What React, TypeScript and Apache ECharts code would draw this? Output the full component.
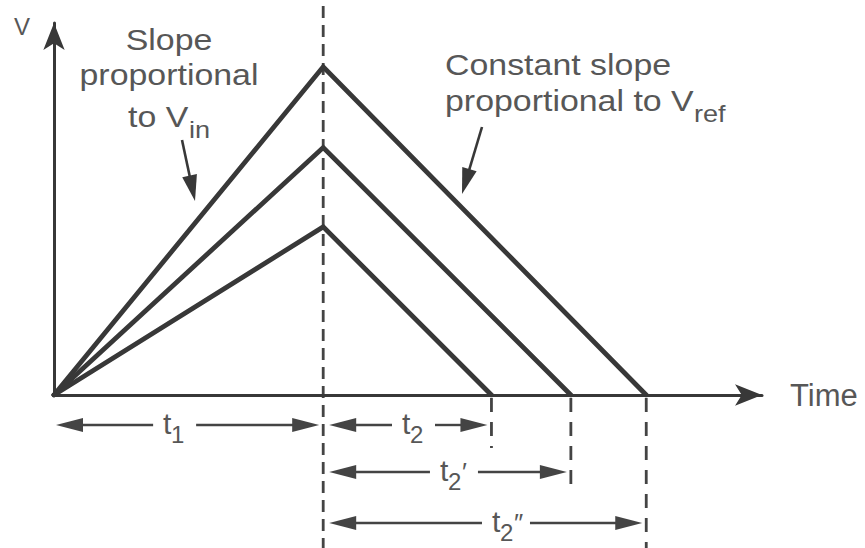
import React, { useEffect, useRef } from "react";
import * as echarts from "echarts";

// ---- data ----
const T1 = 10; // fixed integration period t1
const peakVoltages = [12.2, 9.2, 6.25]; // V at t1 for the three inputs (largest first)
const dischargeEnds = [22.0, 19.2, 16.25]; // time at which each ramp returns to zero
const xAxisMax = 26.3;
const yAxisMax = 13.83;

// dimension arrows: label, subscript, mark, start, end, row, label position
const dimSubs = ["1", "2", "2", "2"];
const dimMarks = ["", "", "\u2032", "\u2033"];
const dimFrom = [0, T1, T1, T1];
const dimTo = [T1, dischargeEnds[2], dischargeEnds[1], dischargeEnds[0]];
const dimRow = [0, 0, 1, 2];
const dimLabelAt = [0.407, 0.46, 0.466, 0.52];

// ---- layout / style ----
const FONT = "'Liberation Sans', Arial, Helvetica, sans-serif";
const TEXT_COLOR = "#575757";
const LINE_COLOR = "#383838";
const DIM_COLOR = "#444444";
const ROW_Y = [425, 472, 523];
const EXT_BOTTOM = [548, 493, 448]; // extension dashed lines below ends (top, mid, low)
const SX = 1.13;

function txt(text: string, x: number, baseline: number, fontSize: number, align = "left", scaleX = 1) {
  return {
    type: "text",
    x,
    y: baseline - 0.34 * fontSize,
    scaleX,
    silent: true,
    style: {
      text,
      fontSize,
      fontFamily: FONT,
      fill: TEXT_COLOR,
      align,
      verticalAlign: "middle",
    },
  };
}

function seg(x1: number, y1: number, x2: number, y2: number, w: number, color: string, dash?: number[]) {
  return {
    type: "line",
    silent: true,
    shape: { x1, y1, x2, y2 },
    style: { stroke: color, lineWidth: w, lineDash: dash || null, lineCap: "butt" },
  };
}

function head(tipX: number, tipY: number, fromX: number, fromY: number, len: number, half: number, color: string) {
  const dx = tipX - fromX;
  const dy = tipY - fromY;
  const d = Math.sqrt(dx * dx + dy * dy) || 1;
  const ux = dx / d;
  const uy = dy / d;
  const bx = tipX - ux * len;
  const by = tipY - uy * len;
  return {
    type: "polygon",
    silent: true,
    shape: {
      points: [
        [tipX, tipY],
        [bx - uy * half, by + ux * half],
        [bx + uy * half, by - ux * half],
      ],
    },
    style: { fill: color },
  };
}

function pointer(x1: number, y1: number, tipX: number, tipY: number) {
  const dx = tipX - x1;
  const dy = tipY - y1;
  const d = Math.sqrt(dx * dx + dy * dy);
  const len = 26;
  const ex = tipX - (dx / d) * (len - 4);
  const ey = tipY - (dy / d) * (len - 4);
  return [seg(x1, y1, ex, ey, 2.6, LINE_COLOR), head(tipX, tipY, x1, y1, len, 7.5, LINE_COLOR)];
}

export default function App() {
  const ref = useRef<HTMLDivElement>(null);

  useEffect(() => {
    if (!ref.current) return;
    const chart = echarts.init(ref.current, null, { renderer: "svg" });

    const series = peakVoltages.map((p, i) => ({
      type: "line",
      name: "ramp" + (i + 1),
      data: [
        [0, 0],
        [T1, p],
        [dischargeEnds[i], 0],
      ],
      symbol: "none",
      silent: true,
      z: 3,
      lineStyle: { color: LINE_COLOR, width: 4.8, join: "miter", cap: "round" },
    }));

    const axisLine = {
      show: true,
      symbol: ["none", "arrow"],
      symbolSize: [16, 27],
      lineStyle: { color: LINE_COLOR, width: 3 },
    };

    chart.setOption({
      animation: false,
      backgroundColor: "#ffffff",
      grid: { left: 54, top: 23, width: 708, height: 372 },
      xAxis: {
        type: "value",
        min: 0,
        max: xAxisMax,
        axisLine,
        axisTick: { show: false },
        axisLabel: { show: false },
        splitLine: { show: false },
        name: "Time",
        nameLocation: "end",
        nameGap: 28,
        nameTextStyle: { fontSize: 31, color: TEXT_COLOR, fontFamily: FONT, verticalAlign: "middle" },
      },
      yAxis: {
        type: "value",
        min: 0,
        max: yAxisMax,
        axisLine,
        axisTick: { show: false },
        axisLabel: { show: false },
        splitLine: { show: false },
      },
      series,
    });

    const px = (x: number, y: number) => chart.convertToPixel({ gridIndex: 0 }, [x, y]) as number[];
    const origin = px(0, 0);
    const xT1 = px(T1, 0)[0];
    const axisY = origin[1];

    const g: any[] = [];
    // dashed line at t1
    g.push(seg(xT1, 6, xT1, 548, 2.8, DIM_COLOR, [12, 7]));
    // dashed extension lines at ramp ends
    dischargeEnds.forEach((e, i) => {
      const xe = px(e, 0)[0];
      g.push(seg(xe, axisY + 3, xe, EXT_BOTTOM[i], 2.8, DIM_COLOR, [14, 10]));
    });

    // dimension arrows
    dimSubs.forEach((sub, i) => {
      const y = ROW_Y[dimRow[i]];
      const a = px(dimFrom[i], 0)[0];
      const b = px(dimTo[i], 0)[0];
      const left = dimFrom[i] === 0 ? a + 2 : a + 6;
      const right = b - 4;
      const tX = left + dimLabelAt[i] * (right - left);
      const gapL = tX - 10;
      const gapR = tX + (dimMarks[i] ? 38 : 33);
      const L = 27;
      g.push(seg(left + L - 4, y, gapL, y, 2.4, DIM_COLOR));
      g.push(seg(gapR, y, right - L + 4, y, 2.4, DIM_COLOR));
      g.push(head(left, y, right, y, L, 7, DIM_COLOR));
      g.push(head(right, y, left, y, L, 7, DIM_COLOR));
      g.push(txt("t", tX, y + 9, 30));
      g.push(txt(sub, tX + 8, y + 18, 24));
      if (dimMarks[i]) g.push(txt(dimMarks[i], tX + 22, y + 9, 26));
    });

    // annotations
    g.push(txt("V", 22, 35, 24, "center"));
    g.push(txt("Slope", 169, 50, 30, "center", SX));
    g.push(txt("proportional", 169, 85, 30, "center", SX));
    g.push(txt("to V", 128, 127, 30, "left", SX));
    g.push(txt("in", 189, 138, 24, "left", SX));
    g.push(...pointer(182, 140, 195, 201));

    g.push(txt("Constant slope", 445, 75, 30, "left", SX));
    g.push(txt("proportional to V", 445, 111, 30, "left", SX));
    g.push(txt("ref", 694, 122, 24, "left", SX));
    g.push(...pointer(482, 127, 462, 194));

    chart.setOption({ graphic: { elements: g } });

    return () => chart.dispose();
  }, []);

  return (
    <div
      ref={ref}
      style={{ position: "absolute", left: 0, top: 0, width: 865, height: 548, background: "#fff" }}
    />
  );
}
